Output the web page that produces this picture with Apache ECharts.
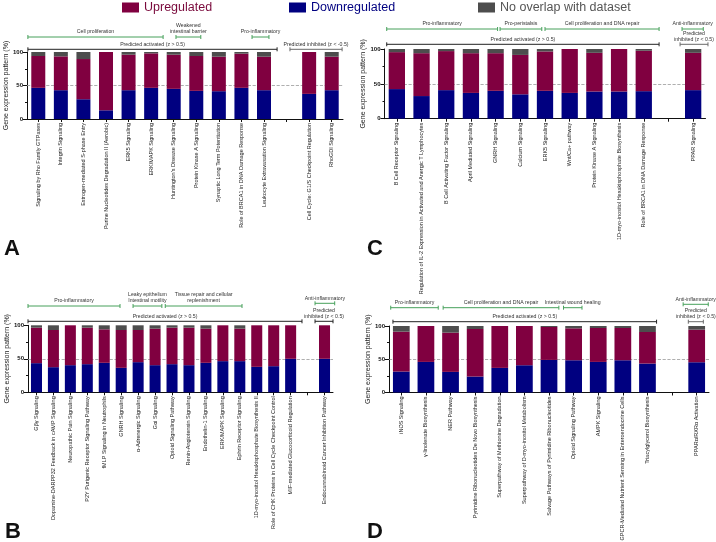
<!DOCTYPE html>
<html><head><meta charset="utf-8">
<script src="https://cdn.jsdelivr.net/npm/echarts@6/dist/echarts.min.js"></script>
<style>html,body{margin:0;padding:0;background:#fff}#c{width:716px;height:542px}</style>
</head><body><div id="c"></div>
<script>
// ---------- DATA ----------
const seriesNames = ['Downregulated', 'Upregulated', 'No overlap with dataset'];

// Panel A
const catsA = ['Signaling by Rho Family GTPases','Integrin Signaling','Estrogen-mediated S-phase Entry','Purine Nucleotides Degradation II (Aerobic)','ERK5 Signaling','ERK/MAPK Signaling',"Huntington's Disease Signaling",'Protein Kinase A Signaling','Synaptic Long Term Potentiation','Role of BRCA1 in DNA Damage Response','Leukocyte Extravasation Signaling','','Cell Cycle: G1/S Checkpoint Regulation','RhoGDI Signaling'];
const downA = [46.5,43,29.5,13,43,46.5,45,42,41.5,46.5,43,null,37.5,43];
const upA   = [47.5,50.5,60,87,53,51.5,51,52,51.5,51,50,null,62.5,50];
const noneA = [6,6.5,10.5,0,4,2,4,6,7,2.5,7,null,0,7];
const bracketsA = [
  {text:'Predicted activated (z > 0.5)', from:0.04, to:11.08, tier:0, kind:'act'},
  {text:'Predicted inhibited (z < -0.5)', from:11.65, to:13.96, tier:0, kind:'inh'},
  {text:'Cell proliferation', from:0.04, to:6.03, tier:1, kind:'grp'},
  {text:'Weakened\nintestinal barrier', from:6.6, to:7.7, tier:1, kind:'grp'},
  {text:'Pro-inflammatory', from:9.97, to:10.72, tier:1, kind:'grp'}
];

// Panel B
const catsB = ['G\u03b2\u03b3 Signaling','Dopamine-DARPP32 Feedback in cAMP Signaling','Neuropathic Pain Signaling','P2Y Purigenic Receptor Signaling Pathway','fMLP Signaling in Neutrophils','GNRH Signaling','\u03b1-Adrenergic Signaling','G\u03b1i Signaling','Opioid Signaling Pathway','Renin-Angiotensin Signaling','Endothelin-1 Signaling','ERK/MAPK Signaling','Ephrin Receptor Signaling','1D-myo-inositol Hexakisphosphate Biosynthesis II','Role of CHK Proteins in Cell Cycle Checkpoint Control','MIF-mediated Glucocorticoid Regulation','','Endocannabinoid Cancer Inhibition Pathway'];
const downB = [43.5,37.5,40.5,42,44,36.5,45,40.5,42,40.5,44,46.5,46.5,38,39,50,null,50];
const upB   = [53,55.5,59.5,54.5,50,56.5,48,54.5,54.5,56,51,53.5,48.5,62,61,50,null,50];
const noneB = [3.5,7,0,3.5,6,7,7,5,3.5,3.5,5,0,5,0,0,0,null,0];
const bracketsB = [
  {text:'Predicted activated (z > 0.5)', from:0, to:16.17, tier:0, kind:'act'},
  {text:'Predicted\ninhibited (z < 0.5)', from:16.94, to:18.0, tier:0, kind:'act'},
  {text:'Pro-inflammatory', from:0, to:5.43, tier:1, kind:'grp'},
  {text:'Leaky epithelium\nIntestinal motility', from:6.2, to:7.9, tier:1, kind:'grp'},
  {text:'Tissue repair and cellular\nreplenishment', from:8.1, to:12.63, tier:1, kind:'grp'},
  {text:'Anti-inflammatory', from:16.94, to:18.1, tier:2, kind:'grp'}
];

// Panel C
const catsC = ['B Cell Receptor Signaling','Regulation of IL-2 Expression in Activated and Anergic T Lymphocytes','B Cell Activating Factor Signaling','April Mediated Signaling','GNRH Signaling','Calcium Signaling','ERK5 Signaling','Wnt/Ca+ pathway','Protein Kinase A Signaling','1D-myo-inositol Hexakisphosphate Biosynthesis','Role of BRCA1 in DNA Damage Response','','PPAR Signaling'];
const downC = [42.5,32.5,41,37,40,35,40,37,39,39,39.5,null,41];
const upC   = [53,61.5,56,57,54,56.5,56.5,63,55.5,61,58,null,53.5];
const noneC = [4.5,6,3,6,6,8.5,3.5,0,5.5,0,2.5,null,5.5];
const bracketsC = [
  {text:'Predicted activated (z > 0.5)', from:0.09, to:11.12, tier:0, kind:'act'},
  {text:'Predicted\ninhibited (z < 0.5)', from:11.97, to:13.1, tier:0, kind:'inh'},
  {text:'Pro-inflammatory', from:0.09, to:4.58, tier:1, kind:'grp'},
  {text:'Pro-peristalsis', from:4.68, to:6.37, tier:1, kind:'grp'},
  {text:'Cell proliferation and DNA repair', from:6.5, to:11.12, tier:1, kind:'grp'},
  {text:'Anti-inflammatory', from:12.05, to:12.91, tier:1, kind:'grp'}
];

// Panel D
const catsD = ['iNOS Signaling','\u03b3-linolenate Biosynthesis','NER Pathway','Pyrimidine Ribonucleotides De Novo Biosynthesis','Superpathway of Methionine Degradation','Superpathway of D-myo-inositol Metabolism','Salvage Pathways of Pyrimidine Ribonucleotides','Opioid Signaling Pathway','AMPK Signaling','GPCR-Mediated Nutrient Sensing in Enteroendocrine Cells','Triacylglycerol Biosynthesis','','PPAR\u03b1/RXR\u03b1 Activation'];
const downD = [31.5,46,31,24,37,41,49,48.5,46,48.5,43.5,null,45.5];
const upD   = [60,54,59,71.5,63,59,49.5,48,51,48.5,47.5,null,49];
const noneD = [8.5,0,10,4.5,0,0,1.5,3.5,3,3,9,null,5.5];
const bracketsD = [
  {text:'Predicted activated (z > 0.5)', from:0.16, to:10.87, tier:0, kind:'act'},
  {text:'Predicted\ninhibited (z < 0.5)', from:12.16, to:12.77, tier:0, kind:'inh'},
  {text:'Pro-inflammatory', from:0.07, to:2.0, tier:1, kind:'grp'},
  {text:'Cell proliferation and DNA repair', from:2.2, to:6.9, tier:1, kind:'grp'},
  {text:'Intestinal wound healing', from:7.09, to:7.84, tier:1, kind:'grp'},
  {text:'Anti-inflammatory', from:11.95, to:12.97, tier:2, kind:'grp'}
];

// ---------- LAYOUT / STYLE ----------
const FONT = '"Liberation Sans", Arial, sans-serif';
const COLORS = {'Downregulated':'#000080','Upregulated':'#800040','No overlap with dataset':'#4d4d4d'};
const BRK = {act:'#222222', inh:'#6a6a6a', grp:'#46a05a'};
const panels = [
  {cats:catsA, vals:[downA,upA,noneA], br:bracketsA, grid:{left:27, top:52, width:316, height:67}, bw:'62%', off:[2.7,15,15], letter:'A', lx:4, ly:250},
  {cats:catsB, vals:[downB,upB,noneB], br:bracketsB, grid:{left:28, top:325.3, width:305, height:67}, bw:'65%', off:[4,19.3,22], letter:'B', lx:5, ly:533},
  {cats:catsC, vals:[downC,upC,noneC], br:bracketsC, grid:{left:384.5, top:49, width:321, height:69.7}, bw:'66%', off:[4.7,20,20], letter:'C', lx:367, ly:250},
  {cats:catsD, vals:[downD,upD,noneD], br:bracketsD, grid:{left:389, top:326, width:320, height:66.5}, bw:'68%', off:[4.3,18.3,21.7], letter:'D', lx:367, ly:533}
];

const grid=[], xAxis=[], yAxis=[], series=[], graphic=[];
panels.forEach((p, gi) => {
  grid.push(Object.assign({containLabel:false, outerBoundsMode:'none'}, p.grid));
  xAxis.push({type:'category', gridIndex:gi, data:p.cats,
    axisLine:{lineStyle:{color:'#111', width:1}},
    axisTick:{show:true, alignWithLabel:true, length:3, lineStyle:{color:'#111'}},
    axisLabel:{interval:0, rotate:90, fontSize:5.5, margin:4, color:'#222', fontFamily:FONT}});
  yAxis.push({type:'value', gridIndex:gi, min:0, max:100, interval:50,
    name:'Gene expression pattern (%)', nameLocation:'middle', nameGap:15,
    nameTextStyle:{fontSize:7, color:'#222', fontFamily:FONT},
    axisLine:{show:true, lineStyle:{color:'#111', width:1}},
    axisTick:{show:true, length:4, lineStyle:{color:'#111'}},
    minorTick:{show:true, splitNumber:2, length:2, lineStyle:{color:'#111'}},
    splitLine:{show:false},
    axisLabel:{fontSize:6, fontWeight:'bold', margin:4, color:'#111', fontFamily:FONT}});
  // reference line at 50% drawn beneath the bars
  series.push({type:'line', xAxisIndex:gi, yAxisIndex:gi, data:[], z:1, silent:true, animation:false,
    markLine:{silent:true, symbol:'none', animation:false, label:{show:false}, z:1,
      lineStyle:{type:'dashed', color:'#9a9a9a', width:0.8}, data:[{yAxis:50}]}});
  seriesNames.forEach((nm, si) => {
    series.push({name:nm, type:'bar', stack:'s'+gi, xAxisIndex:gi, yAxisIndex:gi, z:3,
      data:p.vals[si], barWidth:p.bw, itemStyle:{color:COLORS[nm]}, silent:true, animation:false});
  });
  const br = p.br, off = p.off;
  series.push({type:'custom', xAxisIndex:gi, yAxisIndex:gi, silent:true, clip:false, z:10, animation:false,
    data: br.map(() => [0, 100]),
    renderItem: function(params, api){
      const b = br[params.dataIndex];
      const c0 = api.coord([0, 100]);
      const bw = api.size([1, 0])[0];
      const left = c0[0] - bw/2;
      const x1 = left + b.from*bw, x2 = left + b.to*bw;
      const y = c0[1] - off[b.tier];
      const col = BRK[b.kind];
      const ls = {stroke:col, lineWidth:1};
      return {type:'group', children:[
        {type:'line', shape:{x1:x1, y1:y, x2:x2, y2:y}, style:ls},
        {type:'line', shape:{x1:x1, y1:y-2, x2:x1, y2:y+2}, style:ls},
        {type:'line', shape:{x1:x2, y1:y-2, x2:x2, y2:y+2}, style:ls},
        {type:'text', style:{text:b.text, x:(x1+x2)/2, y:y-2, align:'center', verticalAlign:'bottom',
          fontSize:5.2, lineHeight:6, fill:'#333', fontFamily:FONT}}
      ]};
    }});
  graphic.push({type:'text', left:p.lx, top:p.ly-12, style:{text:p.letter, fontSize:22, fontWeight:'bold', fill:'#111', fontFamily:FONT}});
});

const legendBase = {orient:'horizontal', top:1, padding:0, itemWidth:17, itemHeight:10, icon:'rect', selectedMode:false,
  textStyle:{fontSize:12.5, fontFamily:FONT}};
const legend = [
  Object.assign({}, legendBase, {left:122, data:[{name:'Upregulated', textStyle:{color:'#7a0a3c'}}]}),
  Object.assign({}, legendBase, {left:289, data:[{name:'Downregulated', textStyle:{color:'#000080'}}]}),
  Object.assign({}, legendBase, {left:478, data:[{name:'No overlap with dataset', textStyle:{color:'#555'}}]})
];

const chart = echarts.init(document.getElementById('c'), null, {renderer:'canvas'});
chart.setOption({animation:false, backgroundColor:'#fff', grid, xAxis, yAxis, series, legend, graphic});
</script></body></html>
